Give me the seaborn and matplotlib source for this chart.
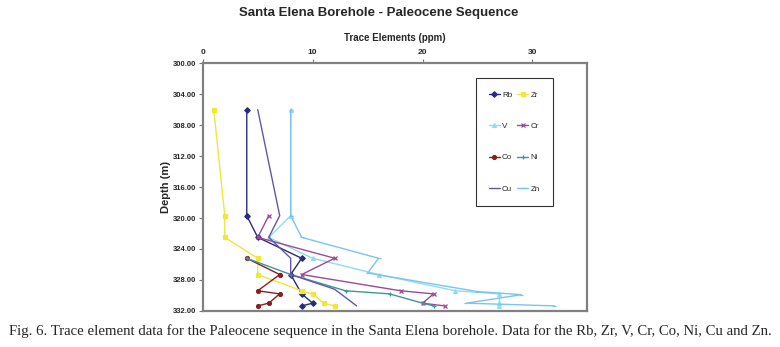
import matplotlib
matplotlib.use("Agg")
from matplotlib import pyplot as plt
import pandas as pd
import seaborn as sns

# Trace element data (ppm) vs depth (m)
rb_depth = [306.0, 319.7, 322.5, 325.2, 327.3, 329.8, 331.0, 331.35]
rb_vals = [4, 4, 5, 9, 8, 9, 10, 9]

zr_depth = [306.0, 319.7, 322.5, 325.2, 327.3, 329.4, 329.8, 331.0, 331.35]
zr_vals = [1, 2, 2, 5, 5, 9, 10, 11, 12]

v_depth = [306.0, 319.7, 322.5, 325.2, 327.3, 329.4, 329.8, 331.0, 331.35]
v_vals = [8, 8, 6, 10, 16, 23, 27, 27, 27]

cr_depth = [319.7, 322.5, 325.2, 327.3, 329.4, 329.8, 331.0, 331.35]
cr_vals = [6, 5, 12, 9, 18, 21, 20, 22]

co_depth = [325.2, 327.3, 329.4, 329.8, 331.0, 331.35]
co_vals = [4, 7, 5, 7, 6, 5]

ni_depth = [325.2, 327.3, 329.4, 329.8, 331.0, 331.35]
ni_vals = [4, 8, 13, 17, 20, 21]

cu_depth = [306.0, 319.7, 322.5, 325.2, 327.3, 329.2, 331.35]
cu_vals = [5, 7, 6, 8, 8, 12, 14]

zn_depth = [306.0, 319.7, 322.5, 325.2, 327.1, 329.5, 329.9, 331.0, 331.35]
zn_vals = [8, 8, 9, 16, 15, 25, 29, 24, 32]

elements = ["Rb", "Zr", "V", "Cr", "Co", "Ni", "Cu", "Zn"]
depths = [rb_depth, zr_depth, v_depth, cr_depth, co_depth, ni_depth, cu_depth, zn_depth]
values = [rb_vals, zr_vals, v_vals, cr_vals, co_vals, ni_vals, cu_vals, zn_vals]

colors = {"Rb": "#2b2b7e", "Zr": "#f2e63a", "V": "#8fdcf2", "Cr": "#9c4a98",
          "Co": "#8a1f1f", "Ni": "#3f9696", "Cu": "#6257a6", "Zn": "#7cc4ec"}
markers = {"Rb": "D", "Zr": "s", "V": "^", "Cr": "x", "Co": "o",
           "Ni": "+", "Cu": None, "Zn": "_"}

rows = []
for el, d, v in zip(elements, depths, values):
    for dd, vv in zip(d, v):
        rows.append({"element": el, "depth": dd, "ppm": vv})
df = pd.DataFrame(rows)

sns.set_style("white")
plt.rcParams["font.family"] = ["Liberation Sans", "DejaVu Sans"]

fig = plt.figure(figsize=(7.8, 3.47), dpi=100)
ax = fig.add_axes([0.260, 0.104, 0.493, 0.714])

for el in elements:
    sub = df[df["element"] == el]
    sns.lineplot(data=sub, x="ppm", y="depth", sort=False, estimator=None,
                 color=colors[el], marker=markers[el], markersize=2.8,
                 markeredgewidth=0.9, markeredgecolor=colors[el],
                 linewidth=1.0, ax=ax, label=el)

ax.set_xlim(0, 35)
ax.set_ylim(332, 300)
ax.set_yticks(range(300, 333, 4))
ax.set_yticklabels([f"{t:.2f}" for t in range(300, 333, 4)],
                   fontsize=5.5, fontweight="bold")
ax.set_xticks([0, 10, 20, 30])
ax.set_xticklabels(["0", "10", "20", "30"], fontsize=6, fontweight="bold")
ax.xaxis.tick_top()
ax.xaxis.set_label_position("top")
ax.tick_params(axis="both", direction="out", length=3, color="#777777",
               top=True, left=True, bottom=False, right=False, pad=2)
ax.set_xlabel("Trace Elements (ppm)", fontsize=7, fontweight="bold", labelpad=6)
ax.set_ylabel("Depth (m)", fontsize=8, fontweight="bold", labelpad=1)
for s in ax.spines.values():
    s.set_color("#808080")
    s.set_linewidth(1.6)

# legend laid out row-wise in two columns
h, l = ax.get_legend_handles_labels()
lookup = dict(zip(l, h))
order = ["Rb", "V", "Co", "Cu", "Zr", "Cr", "Ni", "Zn"]
leg = ax.legend([lookup[k] for k in order], order, ncol=2, fontsize=5.8,
                loc="upper left", bbox_to_anchor=(0.71, 0.94),
                frameon=True, fancybox=False, edgecolor="black",
                labelspacing=2.95, handlelength=1.4, handletextpad=0.25,
                columnspacing=0.6, borderpad=1.6, borderaxespad=0)
leg.get_frame().set_linewidth(0.8)

fig.text(0.485, 0.962, "Santa Elena Borehole - Paleocene Sequence",
         ha="center", va="center", fontsize=9.5, fontweight="bold")
fig.text(0.5, 0.045,
         "Fig. 6. Trace element data for the Paleocene sequence in the Santa Elena "
         "borehole. Data for the Rb, Zr, V, Cr, Co, Ni, Cu and Zn.",
         ha="center", va="center", fontsize=10.6, family=["Liberation Serif", "DejaVu Serif"])

fig.savefig("out.png", dpi=100)
